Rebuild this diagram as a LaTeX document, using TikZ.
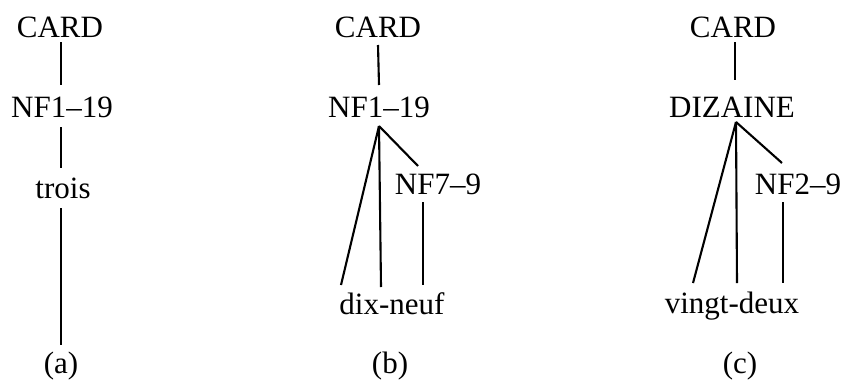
\documentclass[tikz,border=0pt]{standalone}
\usepackage{fontspec}
\setmainfont{Liberation Serif}
\usetikzlibrary{calc}
\begin{document}
\begin{tikzpicture}[x=1pt,y=-1pt,
  lbl/.style={font=\fontsize{31}{36}\selectfont, inner sep=0pt, anchor=base},
  edge/.style={line width=2.1pt}]
\useasboundingbox[fill=white] (0,0) rectangle (845,383);
% (a)
\node[lbl] (ca) at (60,37) {CARD};
\node[lbl] (na) at (62,117) {NF1–19};
\node[lbl] (ta) at (63,198) {trois};
\node[lbl] (la) at (61,373) {(a)};
\draw[edge] ($(ca.base)+(1,5)$) -- ($(na.base)+(-1,-32)$);
\draw[edge] ($(na.base)+(-1,10)$) -- ($(ta.base)+(-2,-30)$);
\draw[edge] ($(ta.base)+(-2,10)$) -- ($(la.base)+(0,-28)$);
% (b)
\node[lbl] (cb) at (378,37) {CARD};
\node[lbl] (nb) at (379,117) {NF1–19};
\node[lbl] (n7) at (438,194) {NF7–9};
\node[lbl] (db) at (392,314) {dix-neuf};
\node[lbl] (lb) at (390,373) {(b)};
\draw[edge] ($(cb.base)+(0,8)$) -- ($(nb.base)+(0,-32)$);
\draw[edge] ($(nb.base)+(0,9)$) -- ($(db.base)+(-51,-29)$);
\draw[edge] ($(nb.base)+(0,9)$) -- ($(db.base)+(-11,-27)$);
\draw[edge] ($(nb.base)+(0,9)$) -- ($(n7.base)+(-20,-28)$);
\draw[edge] ($(n7.base)+(-15,8)$) -- ($(db.base)+(31,-29)$);
% (c)
\node[lbl] (cc) at (733,37) {CARD};
\node[lbl] (dz) at (732,117) {DIZAINE};
\node[lbl] (n2) at (798,194) {NF2–9};
\node[lbl] (vd) at (732,313) {vingt-deux};
\node[lbl] (lc) at (740,373) {(c)};
\draw[edge] ($(cc.base)+(2,5)$) -- ($(dz.base)+(3,-37)$);
\draw[edge] ($(dz.base)+(4,5)$) -- ($(vd.base)+(-39,-30)$);
\draw[edge] ($(dz.base)+(4,5)$) -- ($(vd.base)+(5,-30)$);
\draw[edge] ($(dz.base)+(4,5)$) -- ($(n2.base)+(-16,-31)$);
\draw[edge] ($(n2.base)+(-15,8)$) -- ($(vd.base)+(51,-30)$);
\end{tikzpicture}
\end{document}
